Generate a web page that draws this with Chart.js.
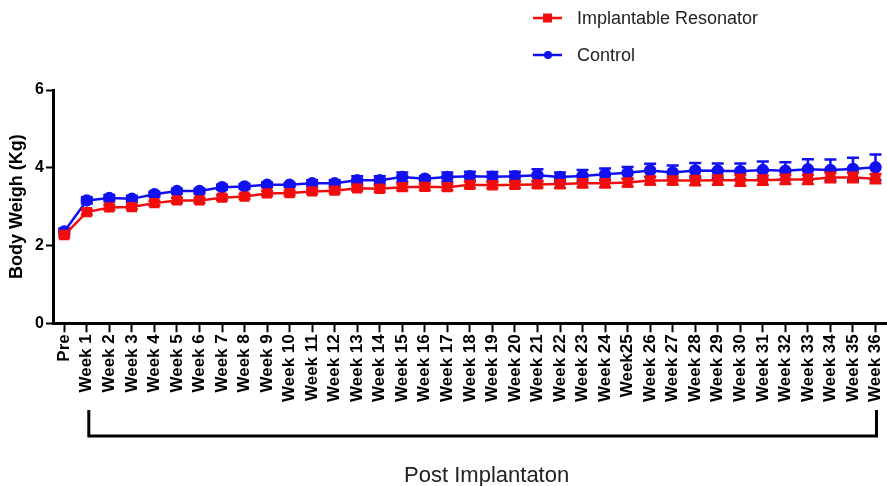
<!DOCTYPE html>
<html>
<head>
<meta charset="utf-8">
<script src="https://cdn.jsdelivr.net/npm/chart.js@4.4.1/dist/chart.umd.min.js"></script>
<style>
  html, body { margin: 0; padding: 0; background: #fff; overflow: hidden; }
  #wrap { width: 887px; height: 486px; position: relative; overflow: hidden; }
</style>
</head>
<body>
<!-- canvas a bit wider than the page: the last rotated label reserves space on the right -->
<div id="wrap"><canvas id="weightChart" width="898" height="486"></canvas></div>
<script>
// weeks after implantation
const weekLabels = ['Pre', 'Week 1', 'Week 2', 'Week 3', 'Week 4', 'Week 5', 'Week 6', 'Week 7', 'Week 8', 'Week 9',
  'Week 10', 'Week 11', 'Week 12', 'Week 13', 'Week 14', 'Week 15', 'Week 16', 'Week 17', 'Week 18', 'Week 19',
  'Week 20', 'Week 21', 'Week 22', 'Week 23', 'Week 24', 'Week25', 'Week 26', 'Week 27', 'Week 28', 'Week 29',
  'Week 30', 'Week 31', 'Week 32', 'Week 33', 'Week 34', 'Week 35', 'Week 36'];

const seriesNames = ['Implantable Resonator', 'Control'];

const resonatorWeight = [2.27, 2.86, 2.98, 2.99, 3.09, 3.16, 3.16, 3.23, 3.26, 3.34,
  3.35, 3.39, 3.41, 3.47, 3.46, 3.5, 3.51, 3.5, 3.56, 3.55,
  3.56, 3.57, 3.58, 3.6, 3.6, 3.62, 3.67, 3.67, 3.67, 3.68,
  3.68, 3.68, 3.7, 3.7, 3.75, 3.75, 3.72];
const resonatorErr = [0.06, 0.06, 0.06, 0.06, 0.06, 0.06, 0.06, 0.06, 0.06, 0.06,
  0.06, 0.06, 0.06, 0.06, 0.08, 0.08, 0.08, 0.08, 0.08, 0.08,
  0.08, 0.08, 0.1, 0.1, 0.1, 0.1, 0.1, 0.1, 0.12, 0.12,
  0.14, 0.12, 0.12, 0.12, 0.12, 0.12, 0.12];

const controlWeight = [2.36, 3.16, 3.22, 3.2, 3.32, 3.4, 3.4, 3.5, 3.52, 3.56,
  3.56, 3.6, 3.6, 3.68, 3.68, 3.76, 3.72, 3.76, 3.78, 3.77,
  3.78, 3.81, 3.76, 3.79, 3.83, 3.87, 3.93, 3.88, 3.93, 3.92,
  3.91, 3.94, 3.92, 3.96, 3.94, 3.97, 4.01];
const controlErr = [0.08, 0.08, 0.08, 0.08, 0.06, 0.06, 0.06, 0.06, 0.06, 0.06,
  0.05, 0.08, 0.08, 0.1, 0.1, 0.12, 0.06, 0.12, 0.12, 0.12,
  0.12, 0.15, 0.12, 0.15, 0.15, 0.15, 0.17, 0.18, 0.19, 0.19,
  0.2, 0.22, 0.22, 0.26, 0.27, 0.29, 0.33];

const yTicks = [0, 2, 4, 6];

const RED = '#f20d0d';
const BLUE = '#1010f0';
const FONT = 'Arial, "Liberation Sans", sans-serif';

// error bars, drawn through the chart's own scales
const errorBars = {
  id: 'errorBars',
  beforeDatasetDraw(chart, args) {
    const ds = chart.data.datasets[args.index];
    if (!ds.errors) return;
    const { ctx } = chart;
    const x = chart.scales.x, y = chart.scales.y;
    ctx.save();
    ctx.strokeStyle = ds.borderColor;
    ctx.lineWidth = 2.5;
    ds.data.forEach((v, i) => {
      const px = x.getPixelForValue(i);
      const top = y.getPixelForValue(v + ds.errors[i]);
      const bot = y.getPixelForValue(v - ds.errors[i]);
      ctx.beginPath();
      ctx.moveTo(px, top); ctx.lineTo(px, bot);
      ctx.moveTo(px - 6, top); ctx.lineTo(px + 6, top);
      ctx.moveTo(px - 6, bot); ctx.lineTo(px + 6, bot);
      ctx.stroke();
    });
    ctx.restore();
  }
};

// legend at top right, bracket and caption under the axis
const extras = {
  id: 'extras',
  afterDraw(chart) {
    const { ctx } = chart;
    ctx.save();
    // legend
    chart.data.datasets.forEach((ds, i) => {
      const ly = 18 + i * 37;
      ctx.strokeStyle = ds.borderColor;
      ctx.fillStyle = ds.borderColor;
      ctx.lineWidth = 2.5;
      ctx.beginPath();
      ctx.moveTo(533, ly); ctx.lineTo(562, ly);
      ctx.stroke();
      if (ds.pointStyle === 'rect') {
        ctx.fillRect(543, ly - 4.5, 9, 9);
      } else {
        ctx.beginPath();
        ctx.arc(548, ly, 4, 0, Math.PI * 2);
        ctx.fill();
      }
      ctx.fillStyle = '#222';
      ctx.font = '18px ' + FONT;
      ctx.textBaseline = 'middle';
      ctx.textAlign = 'left';
      ctx.fillText(ds.label, 577, ly + 1);
    });

    // bracket from Week 1 to Week 36
    const x = chart.scales.x;
    const x1 = x.getPixelForValue(1) + 2;
    const x2 = x.getPixelForValue(weekLabels.length - 1) + 1;
    ctx.strokeStyle = '#000';
    ctx.lineWidth = 3;
    ctx.beginPath();
    ctx.moveTo(x1, 410);
    ctx.lineTo(x1, 436);
    ctx.lineTo(x2, 436);
    ctx.lineTo(x2, 410);
    ctx.stroke();

    ctx.fillStyle = '#222';
    ctx.font = '22px ' + FONT;
    ctx.textAlign = 'center';
    ctx.textBaseline = 'alphabetic';
    ctx.fillText('Post Implantaton', (x1 + x2) / 2 + 4, 482);
    ctx.restore();
  }
};

const ctx = document.getElementById('weightChart').getContext('2d');
const weightChart = new Chart(ctx, {
  type: 'line',
  data: {
    labels: weekLabels,
    datasets: [
      {
        label: seriesNames[0],
        data: resonatorWeight,
        errors: resonatorErr,
        borderColor: RED,
        backgroundColor: RED,
        borderWidth: 2.5,
        pointStyle: 'rect',
        pointRadius: 5.5,
        tension: 0,
      },
      {
        label: seriesNames[1],
        data: controlWeight,
        errors: controlErr,
        borderColor: BLUE,
        backgroundColor: BLUE,
        borderWidth: 2.5,
        pointStyle: 'circle',
        pointRadius: 5,
        tension: 0,
      },
    ],
  },
  options: {
    responsive: false,
    animation: false,
    layout: { padding: { top: 90, right: 0, bottom: 82, left: 0 } },
    plugins: {
      legend: { display: false },
      tooltip: { enabled: false },
    },
    scales: {
      x: {
        offset: true,
        border: { color: '#000', width: 3 },
        grid: { display: true, drawOnChartArea: false, offset: false, tickLength: 9, tickWidth: 2, tickColor: '#000' },
        ticks: {
          color: '#000',
          font: { family: FONT, size: 17, weight: 'bold' },
          minRotation: 90,
          maxRotation: 90,
          autoSkip: false,
          padding: 2,
        },
      },
      y: {
        min: 0,
        max: 6,
        afterFit(scale) { scale.width = 53; },
        afterBuildTicks(scale) { scale.ticks = yTicks.map((v) => ({ value: v })); },
        border: { color: '#000', width: 3 },
        grid: { display: true, drawOnChartArea: false, tickLength: 7, tickWidth: 2, tickColor: '#000' },
        ticks: {
          color: '#000',
          font: { family: FONT, size: 16, weight: 'bold' },
          padding: 2,
        },
        title: {
          display: true,
          text: 'Body Weigh (Kg)',
          color: '#000',
          font: { family: FONT, size: 18, weight: 'bold' },
          padding: { top: 6, bottom: 0 },
        },
      },
    },
  },
  plugins: [errorBars, extras],
});
</script>
</body>
</html>
